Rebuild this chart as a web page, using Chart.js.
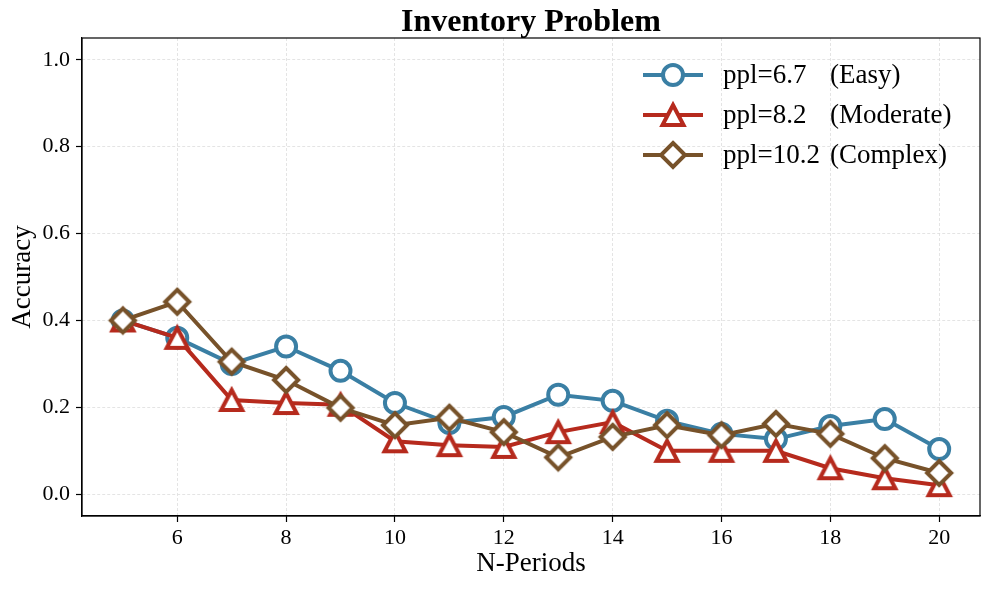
<!DOCTYPE html>
<html>
<head>
<meta charset="utf-8">
<title>Inventory Problem</title>
<script src="https://cdn.jsdelivr.net/npm/chart.js@4/dist/chart.umd.min.js"></script>
<style>
    html, body { margin: 0; padding: 0; background: #ffffff; }
    canvas { display: block; }
</style>
</head>
<body>
<canvas id="myChart" width="990" height="589"></canvas>
<script>
'use strict';

/* data */
const periods = [5, 6, 7, 8, 9, 10, 11, 12, 13, 14, 15, 16, 17, 18, 19, 20];
const easy = [0.40, 0.36, 0.30, 0.34, 0.284, 0.21, 0.164, 0.178, 0.229, 0.215, 0.169, 0.139, 0.127, 0.157, 0.173, 0.104];
const moderate = [0.40, 0.36, 0.217, 0.21, 0.206, 0.122, 0.113, 0.109, 0.143, 0.166, 0.10, 0.10, 0.10, 0.06, 0.037, 0.021];
const complex = [0.40, 0.443, 0.305, 0.263, 0.199, 0.159, 0.176, 0.143, 0.085, 0.132, 0.159, 0.136, 0.162, 0.139, 0.083, 0.049];
const xTicks = [6, 8, 10, 12, 14, 16, 18, 20];
const yTicks = [0.0, 0.2, 0.4, 0.6, 0.8, 1.0];
const seriesNames = ['ppl=6.7', 'ppl=8.2', 'ppl=10.2'];
const seriesTags = ['(Easy)', '(Moderate)', '(Complex)'];

const FONT = "'Liberation Serif', 'Times New Roman', serif";
const BLUE = '#3a7fa4';
const RED = '#b62a1d';
const BROWN = '#77522a';

/* marker images (matplotlib-like ^ and D, centred on their box) */
const makeMarker = function(shape, color) {
    const c = document.createElement('canvas');
    c.width = 40;
    c.height = 40;
    const g = c.getContext('2d');
    g.lineWidth = 4;
    g.lineJoin = 'miter';
    g.strokeStyle = color;
    g.fillStyle = '#ffffff';
    g.beginPath();
    if (shape === 'triangle') {
        g.moveTo(20, 10);
        g.lineTo(30.5, 30);
        g.lineTo(9.5, 30);
    } else {
        g.moveTo(20, 8);
        g.lineTo(32, 20);
        g.lineTo(20, 32);
        g.lineTo(8, 20);
    }
    g.closePath();
    g.fill();
    g.stroke();
    return c;
};

const triangleImg = makeMarker('triangle', RED);
const diamondImg = makeMarker('diamond', BROWN);

const toPoints = function(values) {
    return periods.map(function(p, i) { return {x: p, y: values[i]}; });
};

const makeSet = function(label, values, color, style, order) {
    return {
        label: label,
        data: toPoints(values),
        borderColor: color,
        backgroundColor: '#ffffff',
        borderWidth: 4,
        pointStyle: style,
        pointRadius: 10,
        pointHoverRadius: 10,
        pointBorderWidth: 4,
        pointBackgroundColor: '#ffffff',
        pointBorderColor: color,
        tension: 0,
        order: order,
    };
};

/* title, box round the plot, legend in the upper right */
const framePlugin = {
    id: 'frame',
    afterDatasetsDraw: function(chart) {
        const ctx = chart.ctx;
        const a = chart.chartArea;
        ctx.save();
        ctx.strokeStyle = '#000000';
        ctx.lineWidth = 1.2;
        ctx.strokeRect(a.left, a.top, a.right - a.left, a.bottom - a.top);

        ctx.fillStyle = '#000000';
        ctx.font = 'bold 32px ' + FONT;
        ctx.textAlign = 'center';
        ctx.textBaseline = 'alphabetic';
        ctx.fillText('Inventory Problem', (a.left + a.right) / 2, 31);

        const colors = [BLUE, RED, BROWN];
        for (let i = 0; i < 3; i++) {
            const y = 75 + i * 40;
            ctx.strokeStyle = colors[i];
            ctx.lineWidth = 4;
            ctx.beginPath();
            ctx.moveTo(643, y);
            ctx.lineTo(703, y);
            ctx.stroke();

            if (i === 0) {
                ctx.fillStyle = '#ffffff';
                ctx.beginPath();
                ctx.arc(673, y, 10, 0, Math.PI * 2);
                ctx.fill();
                ctx.stroke();
            } else {
                ctx.drawImage(i === 1 ? triangleImg : diamondImg, 653, y - 20);
            }

            ctx.fillStyle = '#000000';
            ctx.font = '27px ' + FONT;
            ctx.textBaseline = 'middle';
            ctx.textAlign = 'left';
            ctx.fillText(seriesNames[i], 723, y + 1);
            ctx.fillText(seriesTags[i], 830, y + 1);
        }
        ctx.restore();
    }
};

const ctx = document.getElementById('myChart').getContext('2d');

const chart = new Chart(ctx, {
    type: 'line',
    data: {
        datasets: [
            makeSet(seriesNames[0] + ' ' + seriesTags[0], easy, BLUE, 'circle', 3),
            makeSet(seriesNames[1] + ' ' + seriesTags[1], moderate, RED, triangleImg, 2),
            makeSet(seriesNames[2] + ' ' + seriesTags[2], complex, BROWN, diamondImg, 1),
        ]
    },
    options: {
        responsive: false,
        animation: false,
        devicePixelRatio: 1,
        layout: { autoPadding: false, padding: { left: 0, right: 10, top: 38, bottom: 0 } },
        plugins: {
            legend: { display: false },
            tooltip: { enabled: false },
            title: { display: false },
        },
        scales: {
            x: {
                type: 'linear',
                min: 4.25,
                max: 20.75,
                afterBuildTicks: function(scale) {
                    scale.ticks = xTicks.map(function(v) { return {value: v}; });
                },
                afterFit: function(scale) { scale.height = 73; },
                ticks: {
                    color: '#000000',
                    font: { family: FONT, size: 22 },
                    padding: 3,
                    maxRotation: 0,
                    autoSkip: false,
                },
                grid: {
                    color: '#dddddd',
                    lineWidth: 0.8,
                    tickColor: '#000000',
                    tickLength: 6,
                    tickWidth: 1.2,
                    tickBorderDash: [],
                },
                border: { display: true, color: '#000000', width: 1.2, dash: [3, 2] },
                title: {
                    display: true,
                    text: 'N-Periods',
                    color: '#000000',
                    font: { family: FONT, size: 27, lineHeight: 1.2 },
                    padding: { top: 0, bottom: 9 },
                },
            },
            y: {
                type: 'linear',
                min: -0.05,
                max: 1.05,
                afterBuildTicks: function(scale) {
                    scale.ticks = yTicks.map(function(v) { return {value: v}; });
                },
                afterFit: function(scale) { scale.width = 82; },
                ticks: {
                    color: '#000000',
                    font: { family: FONT, size: 22 },
                    padding: 6,
                    callback: function(v) { return v.toFixed(1); },
                },
                grid: {
                    color: '#dddddd',
                    lineWidth: 0.8,
                    tickColor: '#000000',
                    tickLength: 6,
                    tickWidth: 1.2,
                    tickBorderDash: [],
                },
                border: { display: true, color: '#000000', width: 1.2, dash: [3, 2] },
                title: {
                    display: true,
                    text: 'Accuracy',
                    color: '#000000',
                    font: { family: FONT, size: 27, lineHeight: 1.2 },
                    padding: { top: 7, bottom: 0 },
                },
            },
        },
    },
    plugins: [framePlugin],
});
</script>
</body>
</html>
